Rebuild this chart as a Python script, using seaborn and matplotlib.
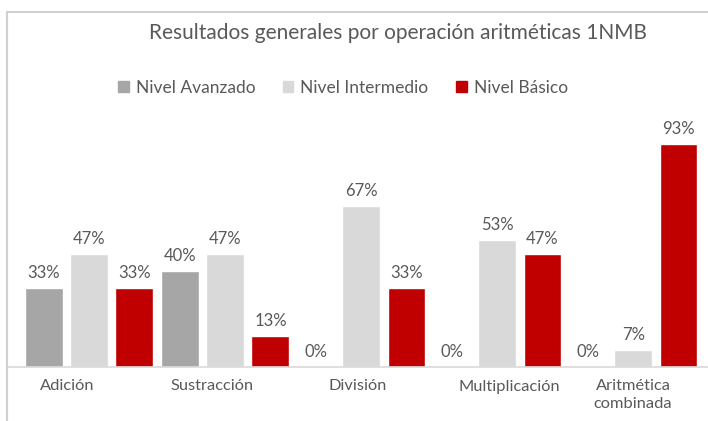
import matplotlib
matplotlib.use("Agg")
import matplotlib.pyplot as plt
import matplotlib.transforms as mtransforms
import seaborn as sns
import pandas as pd
from matplotlib.lines import Line2D

categories = ["Adición", "Sustracción", "División", "Multiplicación", "Aritmética\ncombinada"]
series_names = ["Nivel Avanzado", "Nivel Intermedio", "Nivel Básico"]
avanzado = [33, 40, 0, 0, 0]
intermedio = [47, 47, 67, 53, 7]
basico = [33, 13, 33, 47, 93]
colors = ["#a6a6a6", "#d9d9d9", "#c00000"]
title = "Resultados generales por operación aritméticas 1NMB"

rows = []
for name, vals in zip(series_names, [avanzado, intermedio, basico]):
    for c, v in zip(categories, vals):
        rows.append({"cat": c, "serie": name, "val": v})
df = pd.DataFrame(rows)

sns.set_style("white")
plt.rcParams["font.family"] = ["Lato", "DejaVu Sans"]
txt = "#595959"

W, H = 708, 421
fig = plt.figure(figsize=(W / 100, H / 100), dpi=100)
base_y = 367
ax = fig.add_axes([7 / W, (H - base_y) / H, 1 - 7 / W, 240 / H])

sns.barplot(data=df, x="cat", y="val", hue="serie", order=categories,
            hue_order=series_names, palette=colors, width=1.0, gap=0.165,
            ax=ax, legend=False, saturation=1)

for cont in ax.containers:
    ax.bar_label(cont, labels=[f"{int(round(b.get_height()))}%" for b in cont],
                 padding=5, fontsize=12, color=txt)

ax.set_ylim(0, 100)
ax.set_xlim(-0.603, 4.55)
ax.set_xlabel("")
ax.set_ylabel("")
ax.set_yticks([])
for s in ["top", "right", "left"]:
    ax.spines[s].set_visible(False)
ax.spines["bottom"].set_color("#d9d9d9")
ax.spines["bottom"].set_linewidth(1.2)
ax.tick_params(axis="x", length=0, pad=9, labelsize=11.8, labelcolor=txt)

# horizontal nudges (pixels) of the category labels, as in the reference layout
label_shift_px = [-22, -13, -3, 12, 0]
for lbl, dx in zip(ax.get_xticklabels(), label_shift_px):
    lbl.set_linespacing(1.35)
    lbl.set_verticalalignment("top")
    lbl.set_transform(lbl.get_transform() +
                      mtransforms.ScaledTranslation(dx / 100, 0, fig.dpi_scale_trans))

# outer frame (partially visible)
fig.add_artist(Line2D([7 / W, 7 / W], [0, 1 - 12 / H], color="#d0d0d0", lw=1.5,
                      transform=fig.transFigure))
fig.add_artist(Line2D([7 / W, 1], [1 - 12 / H, 1 - 12 / H], color="#d0d0d0", lw=1.5,
                      transform=fig.transFigure))

fig.text(398 / W, 1 - 33 / H, title, ha="center", va="center", fontsize=15, color=txt)

handles = [plt.Rectangle((0, 0), 1, 1, color=c) for c in colors]
fig.legend(handles, series_names, loc="center", bbox_to_anchor=(343 / W, 1 - 88 / H),
           ncol=3, frameon=False, fontsize=12.5, labelcolor=txt, handlelength=0.6,
           handleheight=0.6, handletextpad=0.4, columnspacing=1.6)

fig.savefig("out.png", dpi=100)
